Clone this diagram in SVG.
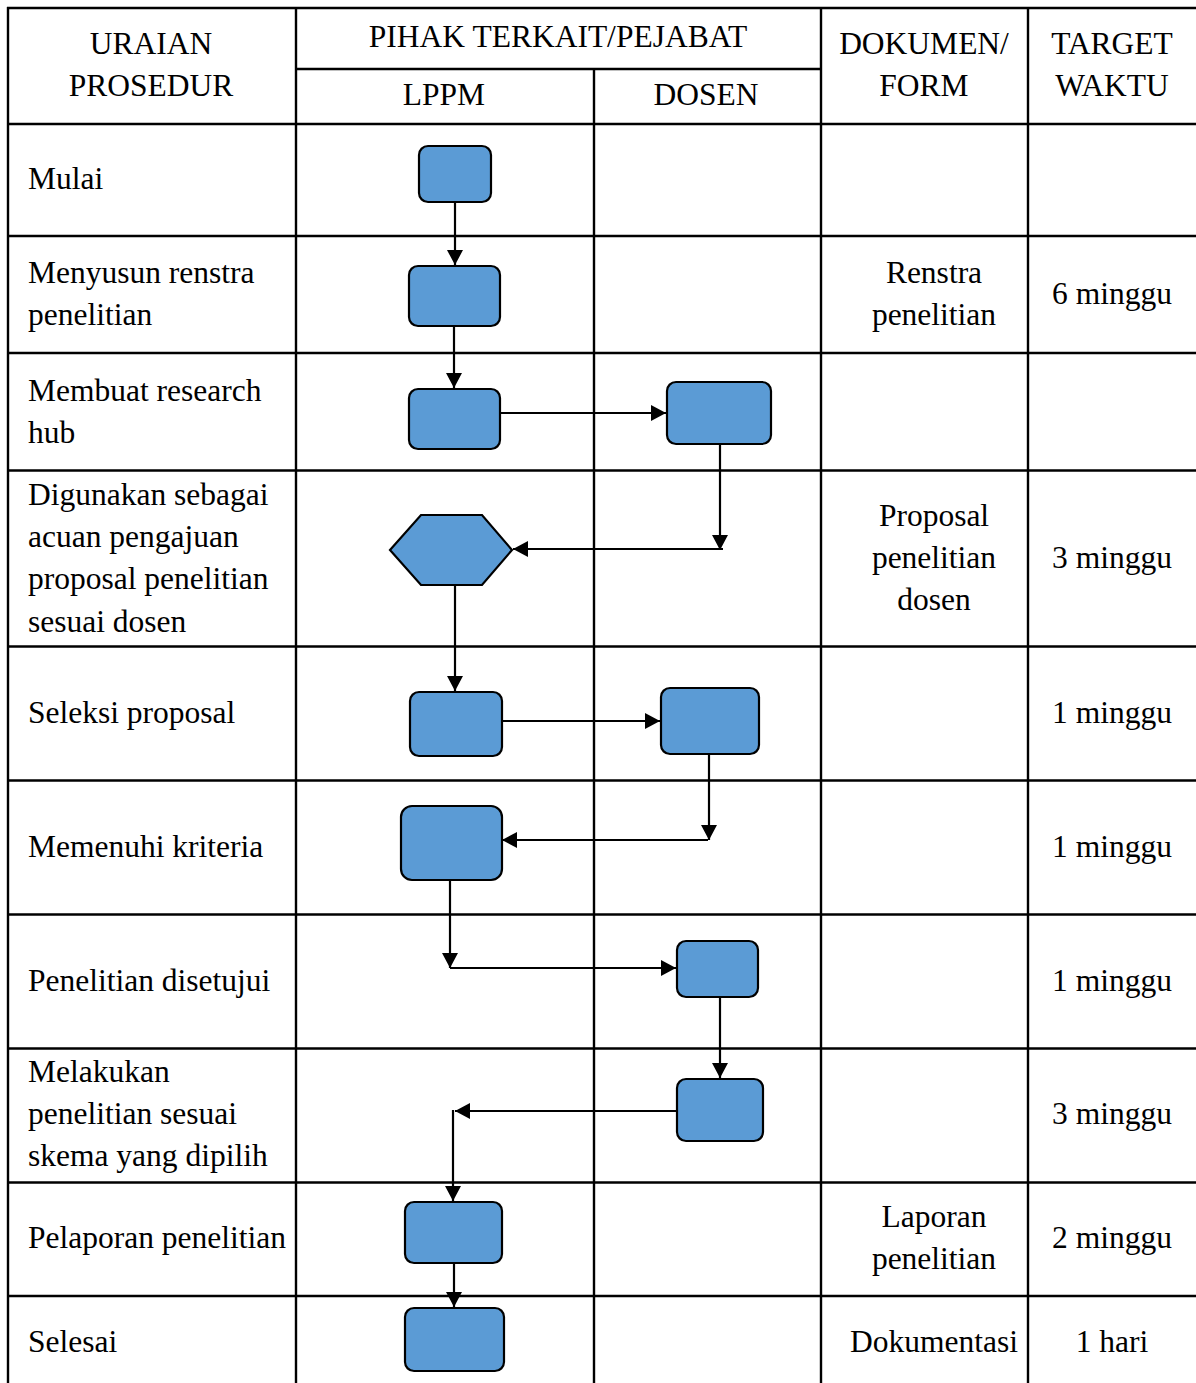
<svg xmlns="http://www.w3.org/2000/svg" width="1196" height="1383" viewBox="0 0 1196 1383">
<style>
text{font-family:"Liberation Serif","Times New Roman",serif;font-size:31.5px;fill:#000}
.c{text-anchor:middle}
.grid line{stroke:#000;stroke-width:2.4}
.n{fill:#5b9bd5;stroke:#000;stroke-width:2.2}
.e{stroke:#000;stroke-width:2.2;fill:none}
</style>
<defs>
<marker id="a" markerUnits="userSpaceOnUse" markerWidth="18" markerHeight="18" refX="15" refY="8" orient="auto">
<path d="M0,0 L15,8 L0,16 z" fill="#000"/>
</marker>
</defs>
<rect width="1196" height="1383" fill="#fff"/>
<g class="grid">
<line x1="7" y1="8" x2="1196" y2="8"/>
<line x1="296" y1="69" x2="821" y2="69"/>
<line x1="7" y1="124" x2="1196" y2="124"/>
<line x1="7" y1="236" x2="1196" y2="236"/>
<line x1="7" y1="353" x2="1196" y2="353"/>
<line x1="7" y1="470.5" x2="1196" y2="470.5"/>
<line x1="7" y1="646.5" x2="1196" y2="646.5"/>
<line x1="7" y1="780.5" x2="1196" y2="780.5"/>
<line x1="7" y1="914.5" x2="1196" y2="914.5"/>
<line x1="7" y1="1048.5" x2="1196" y2="1048.5"/>
<line x1="7" y1="1182.5" x2="1196" y2="1182.5"/>
<line x1="7" y1="1296" x2="1196" y2="1296"/>
<line x1="8" y1="7" x2="8" y2="1383"/>
<line x1="296" y1="7" x2="296" y2="1383"/>
<line x1="594" y1="69" x2="594" y2="1383"/>
<line x1="821" y1="7" x2="821" y2="1383"/>
<line x1="1028" y1="7" x2="1028" y2="1383"/>
</g>
<g id="header">
<text class="c" x="151" y="54">URAIAN</text>
<text class="c" x="151" y="96">PROSEDUR</text>
<text class="c" x="558" y="47">PIHAK TERKAIT/PEJABAT</text>
<text class="c" x="444" y="105">LPPM</text>
<text class="c" x="706" y="105">DOSEN</text>
<text class="c" x="924" y="54">DOKUMEN/</text>
<text class="c" x="924" y="96">FORM</text>
<text class="c" x="1112" y="54">TARGET</text>
<text class="c" x="1112" y="96">WAKTU</text>
</g>
<g id="labels">
<text x="28" y="189">Mulai</text>
<text x="28" y="283">Menyusun renstra</text>
<text x="28" y="325">penelitian</text>
<text x="28" y="401">Membuat research</text>
<text x="28" y="443">hub</text>
<text x="28" y="505">Digunakan sebagai</text>
<text x="28" y="547">acuan pengajuan</text>
<text x="28" y="589">proposal penelitian</text>
<text x="28" y="632">sesuai dosen</text>
<text x="28" y="723">Seleksi proposal</text>
<text x="28" y="857">Memenuhi kriteria</text>
<text x="28" y="991">Penelitian disetujui</text>
<text x="28" y="1082">Melakukan</text>
<text x="28" y="1124">penelitian sesuai</text>
<text x="28" y="1166">skema yang dipilih</text>
<text x="28" y="1248">Pelaporan penelitian</text>
<text x="28" y="1352">Selesai</text>
</g>
<g id="documents">
<text class="c" x="934" y="283">Renstra</text>
<text class="c" x="934" y="325">penelitian</text>
<text class="c" x="934" y="526">Proposal</text>
<text class="c" x="934" y="568">penelitian</text>
<text class="c" x="934" y="610">dosen</text>
<text class="c" x="934" y="1227">Laporan</text>
<text class="c" x="934" y="1269">penelitian</text>
<text class="c" x="934" y="1352">Dokumentasi</text>
</g>
<g id="targets">
<text class="c" x="1112" y="304">6 minggu</text>
<text class="c" x="1112" y="568">3 minggu</text>
<text class="c" x="1112" y="723">1 minggu</text>
<text class="c" x="1112" y="857">1 minggu</text>
<text class="c" x="1112" y="991">1 minggu</text>
<text class="c" x="1112" y="1124">3 minggu</text>
<text class="c" x="1112" y="1248">2 minggu</text>
<text class="c" x="1112" y="1352">1 hari</text>
</g>
<g id="connectors">
<line class="e" x1="455" y1="202" x2="455" y2="265" marker-end="url(#a)"/>
<line class="e" x1="454" y1="326" x2="454" y2="388" marker-end="url(#a)"/>
<line class="e" x1="493" y1="413" x2="666" y2="413" marker-end="url(#a)"/>
<line class="e" x1="720" y1="444" x2="720" y2="550" marker-end="url(#a)"/>
<line class="e" x1="723" y1="549" x2="513" y2="549" marker-end="url(#a)"/>
<line class="e" x1="455" y1="585" x2="455" y2="691" marker-end="url(#a)"/>
<line class="e" x1="502" y1="721" x2="660" y2="721" marker-end="url(#a)"/>
<line class="e" x1="709" y1="754" x2="709" y2="840" marker-end="url(#a)"/>
<line class="e" x1="708" y1="840" x2="502" y2="840" marker-end="url(#a)"/>
<line class="e" x1="450" y1="880" x2="450" y2="968" marker-end="url(#a)"/>
<line class="e" x1="450" y1="968" x2="676" y2="968" marker-end="url(#a)"/>
<line class="e" x1="720" y1="997" x2="720" y2="1078" marker-end="url(#a)"/>
<line class="e" x1="677" y1="1111" x2="455" y2="1111" marker-end="url(#a)"/>
<line class="e" x1="453" y1="1110" x2="453" y2="1201" marker-end="url(#a)"/>
<line class="e" x1="454" y1="1263" x2="454" y2="1307" marker-end="url(#a)"/>
</g>
<g id="n1"><rect class="n" x="419" y="146" width="72" height="56" rx="9"/></g>
<g id="n2"><rect class="n" x="409" y="266" width="91" height="60" rx="9"/></g>
<g id="n3"><rect class="n" x="409" y="389" width="91" height="60" rx="9"/></g>
<g id="n4"><rect class="n" x="667" y="382" width="104" height="62" rx="9"/></g>
<g id="n5"><polygon class="n" points="390,550 421,515 482,515 512,550 482,585 421,585"/></g>
<g id="n6"><rect class="n" x="410" y="692" width="92" height="64" rx="9"/></g>
<g id="n7"><rect class="n" x="661" y="688" width="98" height="66" rx="9"/></g>
<g id="n8"><rect class="n" x="401" y="806" width="101" height="74" rx="11"/></g>
<g id="n9"><rect class="n" x="677" y="941" width="81" height="56" rx="9"/></g>
<g id="n10"><rect class="n" x="677" y="1079" width="86" height="62" rx="9"/></g>
<g id="n11"><rect class="n" x="405" y="1202" width="97" height="61" rx="9"/></g>
<g id="n12"><rect class="n" x="405" y="1308" width="99" height="63" rx="9" stroke="#444"/></g>
</svg>
